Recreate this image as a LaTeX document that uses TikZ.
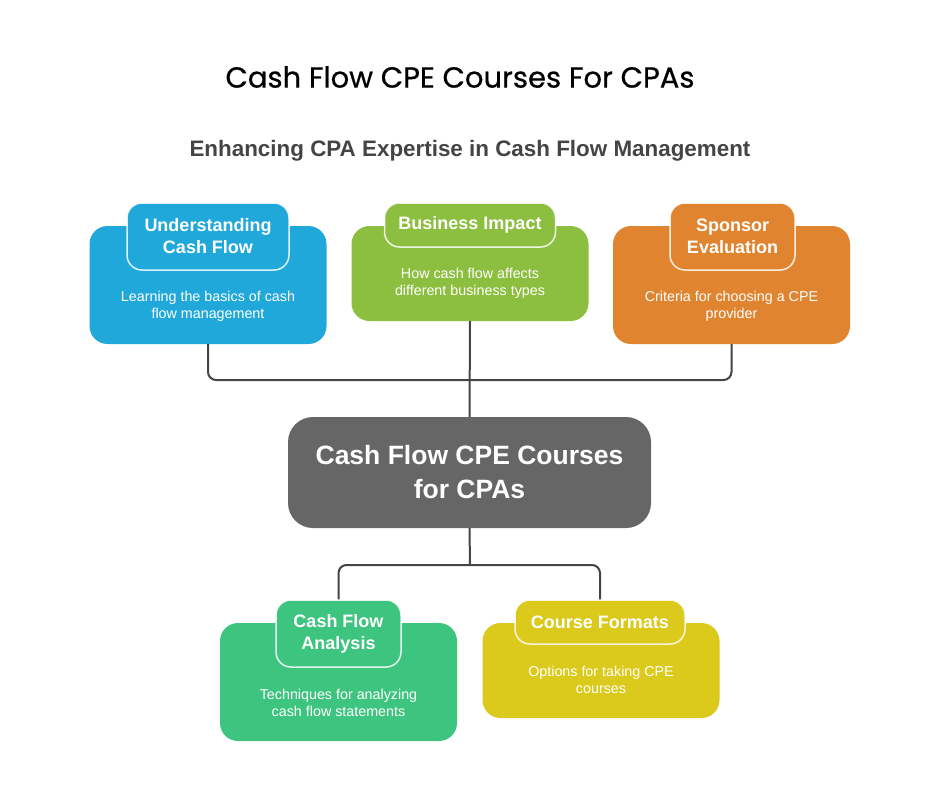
\documentclass[tikz,border=0pt]{standalone}
\usepackage{fontspec}
\setmainfont{Liberation Sans}
\newfontfamily\titlefont[FakeBold=0.6]{Poppins}
\usetikzlibrary{positioning}

\definecolor{cfblue}{HTML}{21A8DB}
\definecolor{cflime}{HTML}{8CBF3F}
\definecolor{cforange}{HTML}{E0842F}
\definecolor{cfgray}{HTML}{666666}
\definecolor{cfgreen}{HTML}{3DC47E}
\definecolor{cfyellow}{HTML}{DBC91B}
\definecolor{linegray}{HTML}{444444}

\tikzset{
  box/.style={rounded corners=18pt, minimum width=237pt, inner sep=0pt},
  tab/.style={draw=white, draw opacity=0.85, line width=1.5pt, rounded corners=15pt, inner sep=0pt,
    text=white, align=center, font=\fontsize{18}{22}\selectfont\bfseries},
  desc/.style={text=white, align=center, font=\fontsize{14.3}{17.5}\selectfont},
  link/.style={draw=linegray, line width=2pt, rounded corners=8pt},
}

\begin{document}
\begin{tikzpicture}[x=1pt,y=-1pt]
    \useasboundingbox (0,0) rectangle (940,788);

    % titles
    \node[font=\titlefont\fontsize{29}{34}\selectfont] (title) at (460,77) {Cash Flow CPE Courses For CPAs};
    \node[font=\fontsize{22.4}{26}\selectfont\bfseries, text=linegray] (subtitle) at (470,151) {Enhancing CPA Expertise in Cash Flow Management};

    % top row
    \node[box, fill=cfblue, minimum height=118pt] (understand) at (208,285) {};
    \node[tab, fill=cfblue, minimum width=162pt, minimum height=67pt] (understandtab) at (208,236.5) {Understanding\\Cash Flow};
    \node[desc] (understanddesc) at (208,306.5) {Learning the basics of cash\\flow management};

    \node[box, fill=cflime, minimum height=95pt] (impact) at (470,273.5) {};
    \node[tab, fill=cflime, minimum width=171pt, minimum height=44pt] (impacttab) at (470,225) {Business Impact};
    \node[desc] (impactdesc) at (470,283.5) {How cash flow affects\\different business types};

    \node[box, fill=cforange, minimum height=118pt] (sponsor) at (731.5,285) {};
    \node[tab, fill=cforange, minimum width=125pt, minimum height=67pt] (sponsortab) at (732.5,236.5) {Sponsor\\Evaluation};
    \node[desc] (sponsordesc) at (731.5,306.5) {Criteria for choosing a CPE\\provider};

    % hub
    \node[rounded corners=25pt, fill=cfgray, minimum width=363pt, minimum height=111pt, inner sep=0pt,
      text=white, align=center, font=\fontsize{26.5}{34}\selectfont\bfseries] (hub) at (469.5,472.5) {Cash Flow CPE Courses\\for CPAs};

    % bottom row
    \node[box, fill=cfgreen, minimum height=118pt] (analysis) at (338.5,682) {};
    \node[tab, fill=cfgreen, minimum width=125pt, minimum height=67pt] (analysistab) at (338.5,633.5) {Cash Flow\\Analysis};
    \node[desc] (analysisdesc) at (338.5,703) {Techniques for analyzing\\cash flow statements};

    \node[box, fill=cfyellow, minimum height=95pt] (formats) at (601,670.5) {};
    \node[tab, fill=cfyellow, minimum width=170pt, minimum height=44pt] (formatstab) at (600,622) {Course Formats};
    \node[desc] (formatsdesc) at (601,680) {Options for taking CPE\\courses};

    % connectors
    \coordinate (topbus) at (470,380);
    \coordinate (botbus) at (470,565);
    \draw[link] (understand.south) |- (topbus) -| (sponsor.south);
    \draw[link] (impact.south) -- (hub.north);
    \draw[link] (hub.south) -- (botbus);
    \draw[link] (analysistab.north) |- (botbus) -| (formatstab.north);
\end{tikzpicture}
\end{document}
